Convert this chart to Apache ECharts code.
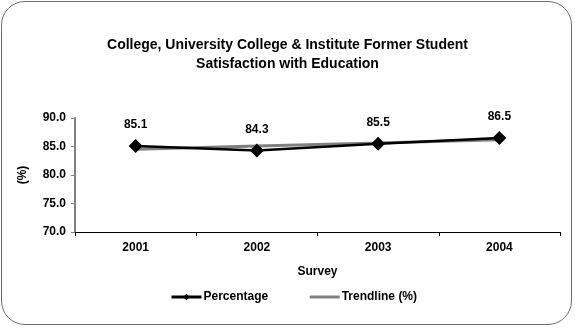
<!DOCTYPE html>
<html><head><meta charset="utf-8">
<script src="https://cdn.jsdelivr.net/npm/echarts@6/dist/echarts.min.js"></script>
<style>html,body{margin:0;padding:0;background:#fff}#c{width:575px;height:328px}
#frame{position:absolute;left:1px;top:1px;width:571px;height:324px;border:1.5px solid #6e6e6e;border-radius:24px;box-sizing:border-box;pointer-events:none}</style>
</head><body><div id="c"></div><div id="frame"></div>
<script>
const categories = ['2001', '2002', '2003', '2004'];
const percentage = [85.1, 84.3, 85.5, 86.5];
const trendline = [84.5, 85.1, 85.6, 86.2];
const yTicks = { min: 70, max: 90, interval: 5 };

const chart = echarts.init(document.getElementById('c'), null, { renderer: 'canvas' });
const font = 'Liberation Sans, Arial, sans-serif';
chart.setOption({
  animation: false,
  textStyle: { fontFamily: font },
  title: {
    text: 'College, University College & Institute Former Student\nSatisfaction with Education',
    left: 'center', top: 31,
    textStyle: { fontFamily: font, fontSize: 14, fontWeight: 'bold', color: '#000', lineHeight: 19 }
  },
  grid: { left: 75, right: 15, top: 118, bottom: 96, containLabel: false },
  xAxis: {
    type: 'category', data: categories, boundaryGap: true,
    name: 'Survey', nameLocation: 'middle', nameGap: 34,
    nameTextStyle: { fontFamily: font, fontSize: 12, fontWeight: 'bold', color: '#000' },
    axisLine: { lineStyle: { color: '#000', width: 1 } },
    axisTick: { show: true, inside: false, length: 4, lineStyle: { color: '#000' } },
    axisLabel: { fontFamily: font, fontSize: 12, fontWeight: 'bold', color: '#000', margin: 10 }
  },
  yAxis: {
    type: 'value', min: yTicks.min, max: yTicks.max, interval: yTicks.interval,
    name: '(%)', nameLocation: 'middle', nameGap: 46, nameRotate: 90,
    nameTextStyle: { fontFamily: font, fontSize: 12, fontWeight: 'bold', color: '#000' },
    axisLine: { show: true, lineStyle: { color: '#808080', width: 2 } },
    axisTick: { show: true, length: 4, lineStyle: { color: '#808080' } },
    splitLine: { show: false },
    axisLabel: { fontFamily: font, fontSize: 12, fontWeight: 'bold', color: '#000', margin: 9,
      formatter: v => v.toFixed(1) }
  },
  legend: {
    bottom: 20, left: 165, itemGap: 40, itemWidth: 30, itemHeight: 8,
    textStyle: { fontFamily: font, fontSize: 12, fontWeight: 'bold', color: '#000', padding: [0, 0, 0, -3] },
    data: [
      { name: 'Percentage', icon: 'inherit', lineStyle: { width: 3 } },
      { name: 'Trendline (%)', icon: 'inherit', itemStyle: { opacity: 0 }, lineStyle: { width: 3, opacity: 1 } }
    ]
  },
  series: [
    {
      name: 'Trendline (%)', type: 'line', data: trendline, symbol: 'none', z: 2,
      lineStyle: { color: '#808080', width: 3 }, itemStyle: { color: '#808080' }
    },
    {
      name: 'Percentage', type: 'line', data: percentage, z: 3,
      symbol: 'diamond', symbolSize: 14,
      lineStyle: { color: '#000', width: 2.5 }, itemStyle: { color: '#000' },
      label: { show: true, position: 'top', distance: 8, fontFamily: font, fontSize: 12,
        fontWeight: 'bold', color: '#000', formatter: p => p.value.toFixed(1) }
    }
  ]
});
</script></body></html>
